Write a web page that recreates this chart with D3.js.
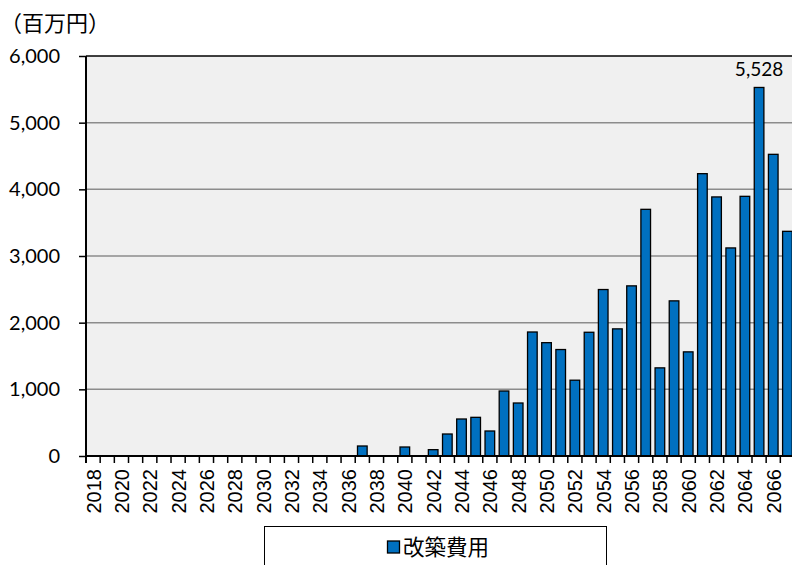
<!DOCTYPE html>
<html>
<head>
<meta charset="utf-8">
<script src="https://cdn.jsdelivr.net/npm/d3@7/dist/d3.min.js"></script>
<style>
  html, body { margin: 0; padding: 0; background: #fff; }
  svg { display: block; }
</style>
</head>
<body>
<svg id="chart" width="792" height="565"></svg>
<script>
// Annual reconstruction cost (millions of yen), 2018–2067
const years = d3.range(2018, 2068);
const costs = [
  0, 0, 0, 0, 0, 0, 0, 0, 0, 0,
  0, 0, 0, 0, 0, 0, 0, 0, 0, 150,
  0, 0, 135, 0, 95, 330, 555, 580, 375, 975,
  795, 1860, 1700, 1597, 1137, 1856, 2497, 1907, 2552, 3700,
  1322, 2327, 1562, 4235, 3886, 3121, 3895, 5528, 4525, 3370
];
const yTicks = [0, 1000, 2000, 3000, 4000, 5000, 6000];
const labelledYears = [2065];
const unitLabel = "（百万円）";
const seriesName = "改築費用";

const svg = d3.select("#chart");
const plotLeft = 86, plotTop = 56, plotBottom = 456;
const bandStep = 14.17;
const plotRight = plotLeft + bandStep * years.length;

const x = d3.scaleBand().domain(years).range([plotLeft, plotRight]).paddingInner(0).paddingOuter(0);
const y = d3.scaleLinear().domain([0, 6000]).range([plotBottom, plotTop]);

const numFont = "Lato, 'Open Sans', sans-serif";
const cjkFont = "'Noto Sans CJK JP', sans-serif";

// plot background
svg.append("rect")
  .attr("x", plotLeft).attr("y", plotTop)
  .attr("width", plotRight - plotLeft).attr("height", plotBottom - plotTop)
  .attr("fill", "#f0f0f0");

// horizontal gridlines
svg.append("g").selectAll("line")
  .data(yTicks.filter(d => d > 0 && d < 6000))
  .join("line")
  .attr("x1", plotLeft).attr("x2", plotRight)
  .attr("y1", d => y(d)).attr("y2", d => y(d))
  .attr("stroke", "#8c8c8c").attr("stroke-width", 1.5);

// bars
const barW = x.bandwidth() * 0.68;
svg.append("g").selectAll("rect")
  .data(years.map((yr, i) => ({ yr, v: costs[i] })).filter(d => d.v > 0))
  .join("rect")
  .attr("x", d => x(d.yr) + (x.bandwidth() - barW) / 2)
  .attr("y", d => y(d.v))
  .attr("width", barW)
  .attr("height", d => y(0) - y(d.v))
  .attr("fill", "#0070c0")
  .attr("stroke", "#000").attr("stroke-width", 1.3);

// top border of plot area
svg.append("line")
  .attr("x1", plotLeft).attr("x2", plotRight).attr("y1", plotTop).attr("y2", plotTop)
  .attr("stroke", "#000").attr("stroke-width", 1.5);

// y axis
const yAxis = d3.axisLeft(y).tickValues(yTicks).tickSize(7).tickPadding(19)
  .tickFormat(d3.format(","));
const gy = svg.append("g").attr("transform", `translate(${plotLeft},0)`).call(yAxis);
gy.select(".domain").remove();
gy.selectAll(".tick line").attr("stroke", "#000").attr("stroke-width", 1.5);
gy.selectAll(".tick text")
  .attr("font-family", numFont).attr("font-size", 20).attr("fill", "#000");
svg.append("line")
  .attr("x1", plotLeft).attr("x2", plotLeft).attr("y1", plotTop).attr("y2", plotBottom + 7)
  .attr("stroke", "#000").attr("stroke-width", 2);

// x axis: ticks sit on the category boundaries
svg.append("g").selectAll("line")
  .data(years)
  .join("line")
  .attr("x1", d => x(d)).attr("x2", d => x(d))
  .attr("y1", plotBottom).attr("y2", plotBottom + 7)
  .attr("stroke", "#000").attr("stroke-width", 1.5);
svg.append("line")
  .attr("x1", plotLeft).attr("x2", plotRight).attr("y1", plotBottom).attr("y2", plotBottom)
  .attr("stroke", "#000").attr("stroke-width", 2);

svg.append("g").selectAll("text")
  .data(years.filter(d => (d - 2018) % 2 === 0))
  .join("text")
  .attr("transform", d => `translate(${x(d) + x.bandwidth() / 2 + 0.5},${plotBottom + 13}) rotate(-90)`)
  .attr("text-anchor", "end")
  .attr("dy", "0.35em")
  .attr("font-family", "'Liberation Sans', Arial, sans-serif")
  .attr("font-size", 20)
  .attr("fill", "#000")
  .text(d => d);

// value label on the peak year
svg.append("g").selectAll("text")
  .data(labelledYears)
  .join("text")
  .attr("x", d => x(d) + x.bandwidth() / 2)
  .attr("y", d => y(costs[years.indexOf(d)]) - 11)
  .attr("text-anchor", "middle")
  .attr("font-family", numFont).attr("font-size", 19).attr("fill", "#000")
  .text(d => d3.format(",")(costs[years.indexOf(d)]));

// unit label
svg.append("text")
  .attr("x", 0).attr("y", 31)
  .attr("font-family", cjkFont).attr("font-size", 22).attr("fill", "#000")
  .text(unitLabel);

// legend
svg.append("rect")
  .attr("x", 264.5).attr("y", 526.5).attr("width", 342).attr("height", 60)
  .attr("fill", "#fff").attr("stroke", "#000").attr("stroke-width", 1);
svg.append("rect")
  .attr("x", 387.5).attr("y", 541).attr("width", 12).attr("height", 12)
  .attr("fill", "#0070c0").attr("stroke", "#000").attr("stroke-width", 1.3);
svg.append("text")
  .attr("x", 403).attr("y", 547).attr("dy", "0.36em")
  .attr("font-family", cjkFont).attr("font-size", 21.5).attr("fill", "#000")
  .text(seriesName);
</script>
</body>
</html>
